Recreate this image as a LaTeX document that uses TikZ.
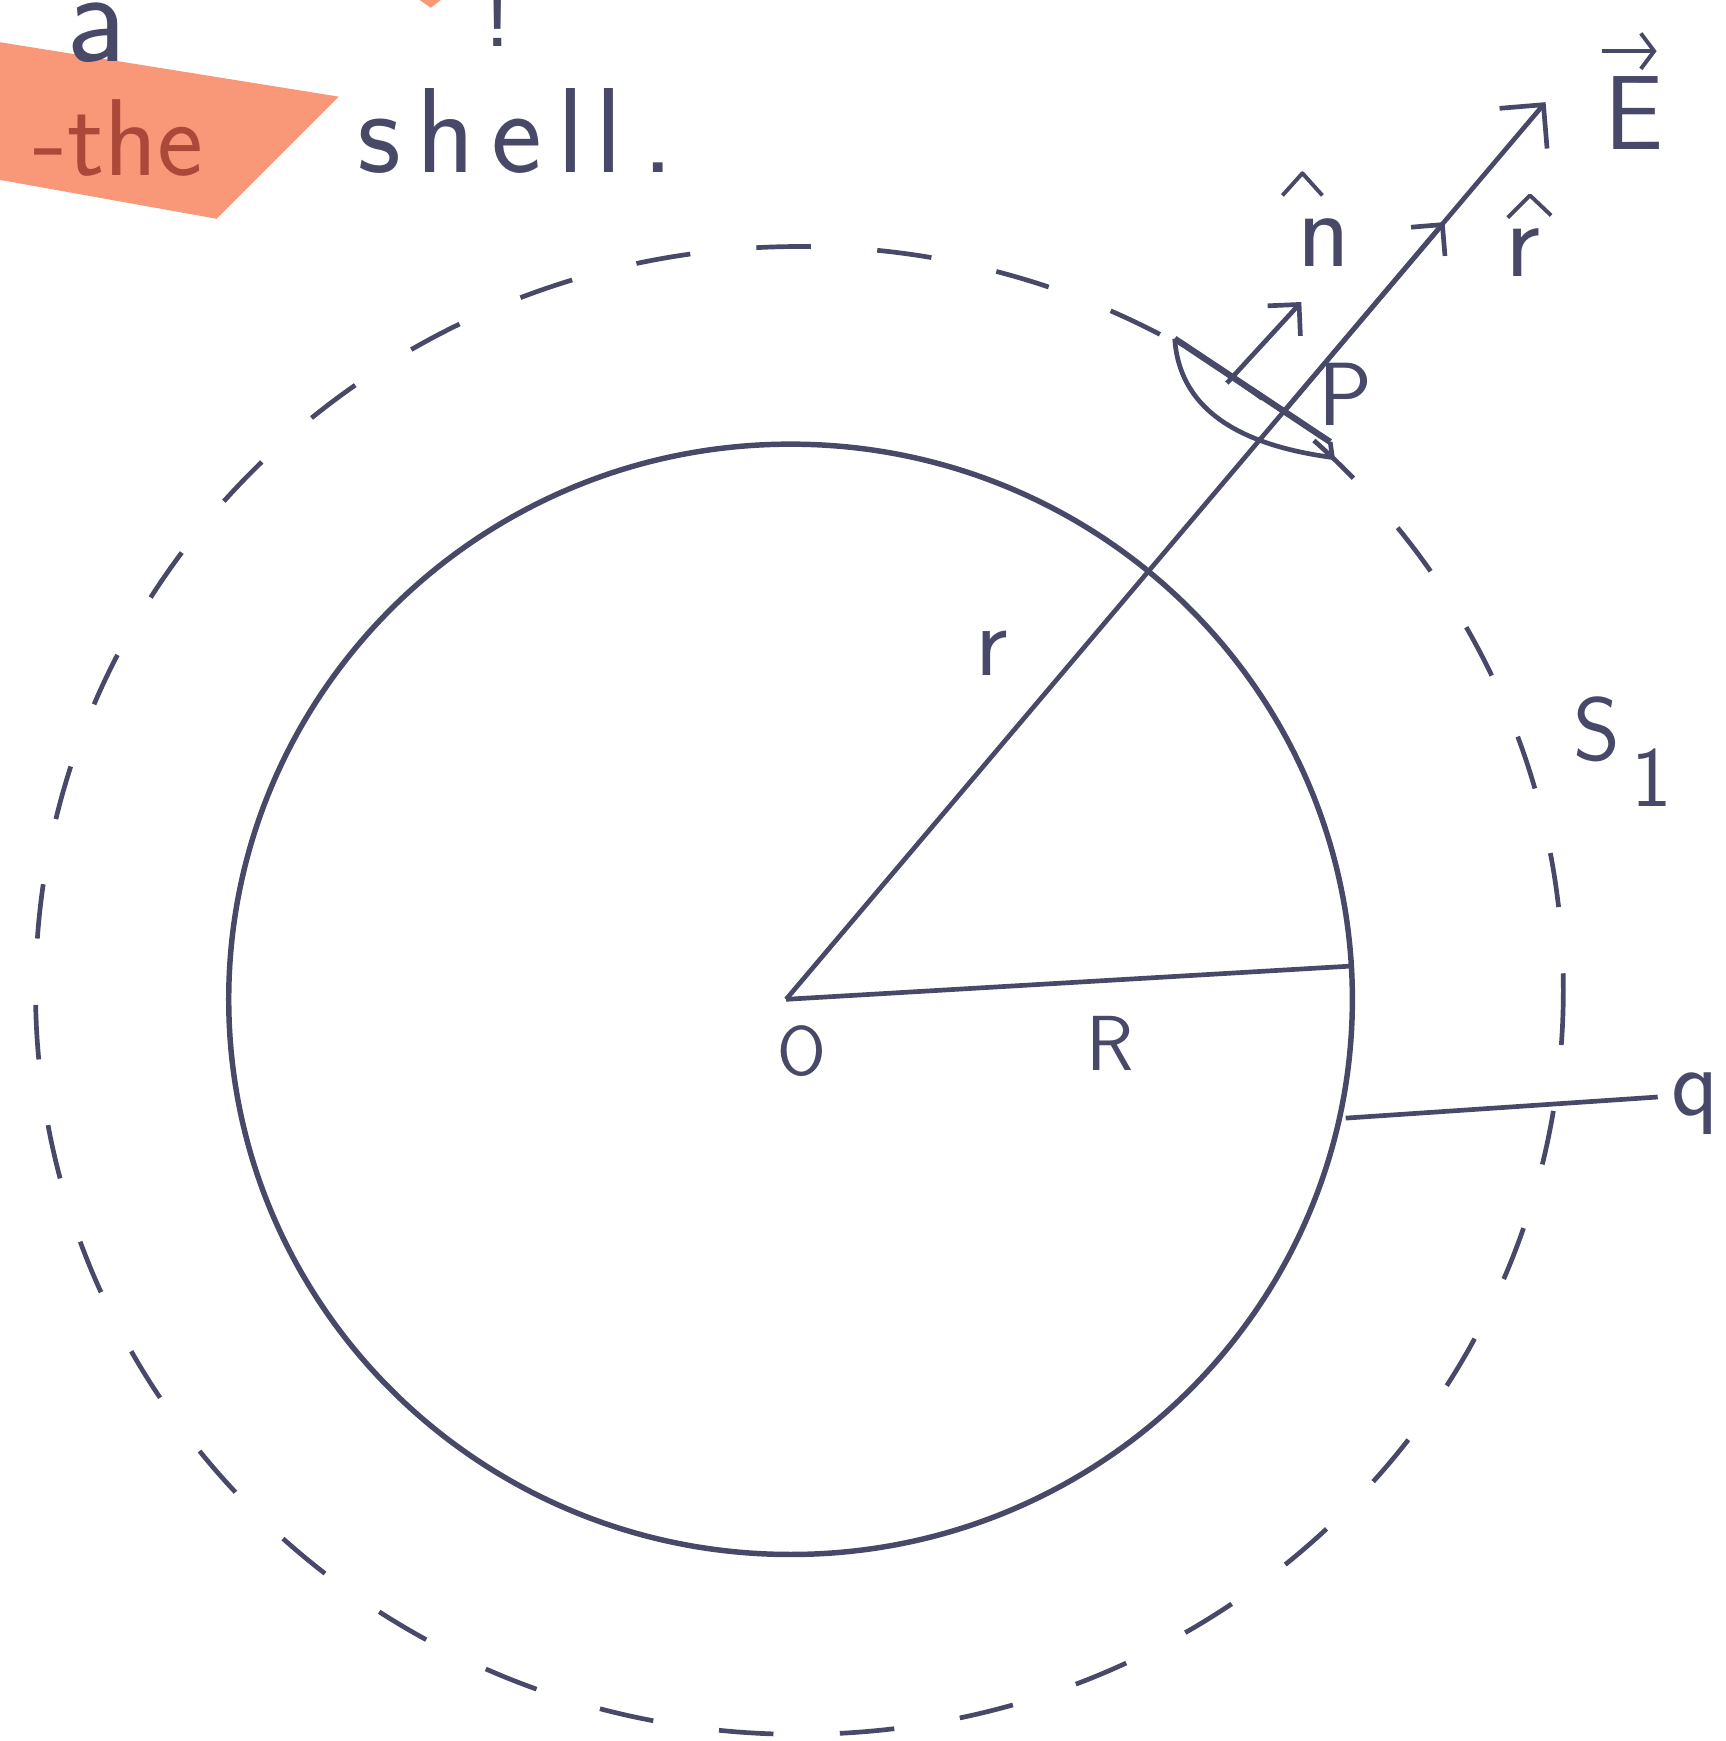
\documentclass[tikz,border=0pt]{standalone}
\usetikzlibrary{arrows.meta}
\definecolor{ink}{RGB}{72,72,104}
\definecolor{marker}{RGB}{248,152,120}
\definecolor{markink}{RGB}{170,72,58}
\newcommand{\fsz}[1]{\sffamily\fontsize{#1}{#1}\selectfont}
\begin{document}
\begin{tikzpicture}[x=0.01cm,y=-0.01cm,line width=1.2pt,color=ink,
  >={Straight Barb[length=2.8mm,width=5.6mm]},
  lbl/.style={inner sep=0pt,text=ink},
  hat/.style={line width=1pt,line join=round}]
  \useasboundingbox (0,0) rectangle (1554,1568);
  \clip (0,0) rectangle (1554,1568);

  \coordinate (O) at (708,900);
  \coordinate (C) at (712,900);
  \coordinate (G) at (720,892);
  \coordinate (Rend) at (1218,870);
  \coordinate (Etip) at (1392,92);
  \coordinate (P) at (1157,370);
  \coordinate (rtip) at (1301,200);
  \coordinate (nA) at (1105,345);
  \coordinate (nB) at (1172,272);
  \coordinate (qA) at (1212,1007);
  \coordinate (qB) at (1493,988);
  \coordinate (dA1) at (1058,305);
  \coordinate (dA2) at (1198,398);
  \coordinate (dA3) at (1200,412);

  % 壳层与高斯面
  \draw[line width=1.4pt] (C) ellipse [x radius=506,y radius=500];
  \draw[dash pattern=on 14pt off 17pt] (G) ellipse [x radius=688,y radius=670];

  % 半径与场线
  \draw (O) -- (Rend);
  \draw[->] (O) -- (Etip);
  \draw[-{Straight Barb[length=2mm,width=4mm]}] (P) -- (rtip);
  \draw[-{Straight Barb[length=2mm,width=4mm]}] (nA) -- (nB);
  \draw (qA) -- (qB);

  % 面元
  \draw[line width=1.6pt] (dA1) -- (dA2);
  \draw (dA1) .. controls (1062,365) and (1110,400) .. (dA3) -- (dA2);

  % 标注
  \node[lbl,font=\fsz{18}] (lO) at (722,947) {O};
  \node[lbl,font=\fsz{20}] (lR) at (1000,940) {R};
  \node[lbl,font=\fsz{26}] (lr) at (893,588) {r};
  \node[lbl,font=\fsz{23}] (lP) at (1212,355) {P};
  \node[lbl,font=\fsz{28},anchor=base] (ln) at (1192,240) {n};
  \draw[hat] (1155,176) -- (1173,156) -- (1191,176);
  \node[lbl,font=\fsz{28},anchor=base] (lrh) at (1372,249) {r};
  \draw[hat] (1358,196) -- (1378,176) -- (1397,194);
  \node[lbl,font=\fsz{27},anchor=base] (lE) at (1472,135) {E};
  \draw[hat,-{Straight Barb[length=1.2mm,width=3.2mm]}] (1443,46) -- (1492,46);
  \node[lbl,font=\fsz{23}] (lS) at (1438,657) {S};
  \node[lbl,font=\fsz{22}] (lS1) at (1488,700) {1};
  \node[lbl,font=\fsz{25},anchor=base west] (lq) at (1503,1005) {q};

  % 便签残片
  \fill[marker] (0,38) -- (305,87) -- (195,197) -- (0,162) -- cycle;
  \fill[marker] (378,0) -- (397,0) -- (388,7) -- cycle;
  \node[lbl,text=markink,font=\fsz{28},anchor=base west] (the) at (28,158) {-the};
  \node[lbl,font=\fsz{31},anchor=base west] (shell) at (320,155)
    {s\kern4pt h\kern4pt e\kern4pt l\kern3pt l\kern5pt.};
  \node[lbl,font=\fsz{34},anchor=base] (la) at (87,55) {a};
  \node[lbl,font=\fsz{26},anchor=base] (excl) at (448,42) {!};
\end{tikzpicture}
\end{document}
